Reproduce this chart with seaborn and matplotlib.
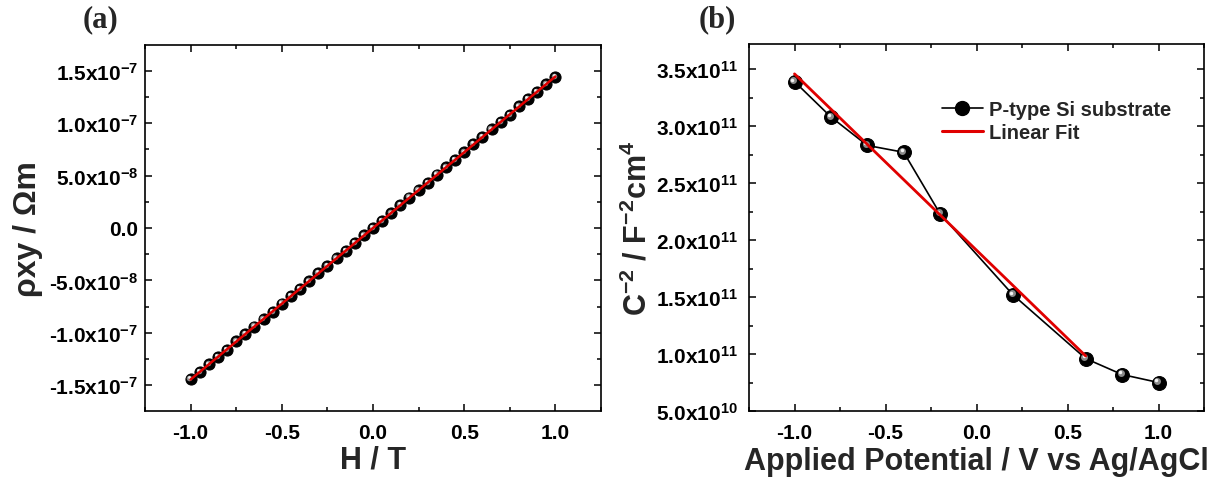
import numpy as np
import pandas as pd
import matplotlib
matplotlib.use("Agg")
import matplotlib.pyplot as plt
import matplotlib.transforms as mtransforms
from matplotlib.ticker import MultipleLocator, FuncFormatter
from matplotlib.lines import Line2D
import seaborn as sns

# ---- data ----
# (a) Hall resistivity vs field
h_field = [-1.00, -0.95, -0.90, -0.85, -0.80, -0.75, -0.70, -0.65, -0.60, -0.55,
           -0.50, -0.45, -0.40, -0.35, -0.30, -0.25, -0.20, -0.15, -0.10, -0.05,
           0.00, 0.05, 0.10, 0.15, 0.20, 0.25, 0.30, 0.35, 0.40, 0.45,
           0.50, 0.55, 0.60, 0.65, 0.70, 0.75, 0.80, 0.85, 0.90, 0.95, 1.00]
rho_xy = [-1.44e-7, -1.37e-7, -1.30e-7, -1.23e-7, -1.16e-7, -1.08e-7, -1.01e-7, -0.94e-7, -0.87e-7, -0.80e-7,
          -0.72e-7, -0.65e-7, -0.58e-7, -0.51e-7, -0.43e-7, -0.36e-7, -0.29e-7, -0.22e-7, -0.14e-7, -0.07e-7,
          0.00e-7, 0.07e-7, 0.14e-7, 0.22e-7, 0.29e-7, 0.36e-7, 0.43e-7, 0.51e-7, 0.58e-7, 0.65e-7,
          0.72e-7, 0.80e-7, 0.87e-7, 0.94e-7, 1.01e-7, 1.08e-7, 1.16e-7, 1.23e-7, 1.30e-7, 1.37e-7, 1.44e-7]

# (b) Mott-Schottky
potential = [-1.0, -0.8, -0.6, -0.4, -0.2, 0.2, 0.6, 0.8, 1.0]
inv_c2 = [3.39e11, 3.08e11, 2.83e11, 2.77e11, 2.23e11, 1.52e11, 0.96e11, 0.82e11, 0.75e11]
fit_upto = 0.6  # linear fit range end

sns.set_theme(style="ticks")
plt.rcParams["font.family"] = ["Liberation Sans", "DejaVu Sans"]
plt.rcParams["font.weight"] = "bold"
plt.rcParams["axes.unicode_minus"] = False
plt.rcParams["mathtext.fontset"] = "custom"
plt.rcParams["mathtext.rm"] = "Liberation Sans:bold"
plt.rcParams["mathtext.it"] = "Liberation Sans:bold"
plt.rcParams["mathtext.bf"] = "Liberation Sans:bold"

TICK_SIZE = 15
LABEL_SIZE = 22


def sci_fmt(v, pos):
    if abs(v) < 1e-30:
        return "0.0"
    e = int(np.floor(np.log10(abs(v)) + 1e-9))
    m = v / 10 ** e
    return f"{m:.1f}x10$^{{{e}}}$"


def style_axes(ax, ypad):
    for s in ax.spines.values():
        s.set_visible(True)
        s.set_linewidth(1.2)
        s.set_color("black")
    ax.tick_params(which="both", direction="in", top=True, right=True,
                   labeltop=False, labelright=False, colors="black",
                   width=1.1, labelsize=TICK_SIZE)
    ax.tick_params(which="major", length=5)
    ax.tick_params(which="minor", length=3)
    ax.tick_params(axis="x", which="major", pad=8.5)
    ax.tick_params(axis="y", which="major", pad=ypad)
    ax.xaxis.set_major_locator(MultipleLocator(0.5))
    ax.xaxis.set_minor_locator(MultipleLocator(0.25))
    ax.xaxis.set_major_formatter(FuncFormatter(lambda v, p: f"{v:.1f}"))
    ax.yaxis.set_major_formatter(FuncFormatter(sci_fmt))
    for lab in ax.get_xticklabels() + ax.get_yticklabels():
        lab.set_fontweight("bold")
    ax.grid(False)


def sphere_highlight(ax, x, y, size):
    # fake 3D shading on the ball markers
    off1 = mtransforms.offset_copy(ax.transData, fig=ax.figure, x=-size * 0.1,
                                   y=size * 0.1, units="points")
    ax.plot(x, y, linestyle="none", marker="o", markersize=size * 0.5,
            markerfacecolor="#8a8a8a", markeredgewidth=0, transform=off1, zorder=4)
    off2 = mtransforms.offset_copy(ax.transData, fig=ax.figure, x=-size * 0.15,
                                   y=size * 0.15, units="points")
    ax.plot(x, y, linestyle="none", marker="o", markersize=size * 0.25,
            markerfacecolor="#f2f2f2", markeredgewidth=0, transform=off2, zorder=4)


fig = plt.figure(figsize=(12.27, 4.81), dpi=100)
ax1 = fig.add_axes([145 / 1227, 69 / 481, 456 / 1227, 366 / 481])
ax2 = fig.add_axes([749 / 1227, 69 / 481, 455 / 1227, 367 / 481])

# ---- panel (a) ----
df_a = pd.DataFrame({"H": h_field, "rho": rho_xy})
slope_a, icpt_a = np.polyfit(df_a["H"], df_a["rho"], 1)
df_a["fit"] = slope_a * df_a["H"] + icpt_a

sns.lineplot(data=df_a, x="H", y="rho", ax=ax1, color="black", linewidth=1,
             marker="o", markersize=8, markeredgecolor="black", zorder=3)
sphere_highlight(ax1, df_a["H"], df_a["rho"], 8)
sns.lineplot(data=df_a, x="H", y="fit", ax=ax1, color="#e00000", linewidth=1.8, zorder=5)

ax1.set_xlim(-1.25, 1.25)
ax1.set_ylim(-1.745e-7, 1.745e-7)
ax1.yaxis.set_major_locator(MultipleLocator(5e-8))
ax1.yaxis.set_minor_locator(MultipleLocator(2.5e-8))
style_axes(ax1, ypad=5)
ax1.set_xlabel("H / T", fontsize=LABEL_SIZE, fontweight="bold", labelpad=2)
ax1.set_ylabel("ρxy / Ωm", fontsize=23, fontweight="bold", labelpad=4)

# ---- panel (b) ----
df_b = pd.DataFrame({"E": potential, "C": inv_c2})
sel = df_b[df_b["E"] <= fit_upto]
slope_b, icpt_b = np.polyfit(sel["E"], sel["C"], 1)
df_fit = pd.DataFrame({"E": sel["E"], "fit": slope_b * sel["E"] + icpt_b})

sns.lineplot(data=df_b, x="E", y="C", ax=ax2, color="black", linewidth=1.2,
             marker="o", markersize=10, markeredgecolor="black", zorder=3)
sphere_highlight(ax2, df_b["E"], df_b["C"], 10)
sns.lineplot(data=df_fit, x="E", y="fit", ax=ax2, color="#e00000", linewidth=2, zorder=5)

ax2.set_xlim(-1.25, 1.25)
ax2.set_ylim(5e10, 3.72e11)
ax2.yaxis.set_major_locator(MultipleLocator(5e10))
ax2.yaxis.set_minor_locator(MultipleLocator(2.5e10))
style_axes(ax2, ypad=8)
ax2.set_xlabel("Applied Potential / V vs Ag/AgCl", fontsize=LABEL_SIZE, fontweight="bold", labelpad=3)
ax2.set_ylabel("C$^{-2}$ / F$^{-2}$cm$^{4}$", fontsize=LABEL_SIZE, fontweight="bold", labelpad=2)

handles = [
    Line2D([], [], color="black", linewidth=1.2, marker="o", markersize=10,
           markerfacecolor="black", markeredgecolor="black"),
    Line2D([], [], color="#e00000", linewidth=2.2),
]
ax2.legend(handles, ["P-type Si substrate", "Linear Fit"], loc="upper left",
           bbox_to_anchor=(0.385, 0.897), frameon=False, handlelength=2.0,
           handletextpad=0.3, labelspacing=0.2, prop={"weight": "bold", "size": 14.5})

# panel letters
fig.text(101 / 1227, 1 - 20 / 481, "(a)", family=["Liberation Serif", "DejaVu Serif"],
         fontsize=22, fontweight="bold", ha="center", va="center")
fig.text(717 / 1227, 1 - 20 / 481, "(b)", family=["Liberation Serif", "DejaVu Serif"],
         fontsize=22, fontweight="bold", ha="center", va="center")

fig.savefig("out.png", dpi=100)
